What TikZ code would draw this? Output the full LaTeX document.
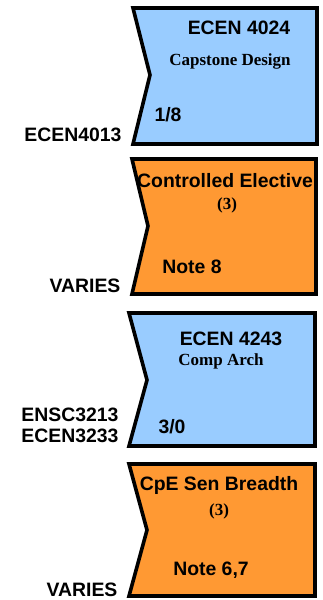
\documentclass[tikz,border=0pt]{standalone}
\usepackage{fontspec}
\setmainfont{Liberation Serif}
\setsansfont{Liberation Sans}
\usepackage{tikz}
\definecolor{coreblue}{RGB}{153,204,255}
\definecolor{electorange}{RGB}{255,153,51}
\tikzstyle{coursebox} = [draw=black, line width=3.6pt, line join=miter]
\tikzstyle{bigtext} = [inner sep=0pt, font=\sffamily\bfseries\fontsize{19.4}{21}\selectfont]
\tikzstyle{smalltext} = [inner sep=0pt, font=\rmfamily\bfseries\fontsize{17}{19}\selectfont]
% left, notch, right, top, middle, bottom, colour
\newcommand{\notchbox}[7]{%
  \draw[coursebox, fill=#7] (#1,#4) -- (#3,#4) -- (#3,#6) -- (#1,#6) -- (#2,#5) -- cycle;}

\begin{document}
\begin{tikzpicture}[x=1pt, y=-1pt]
\useasboundingbox (0,0) rectangle (323,600);

% ECEN 4024
\notchbox{133}{150}{317}{8}{75}{144}{coreblue}
\node[bigtext] (capnum) at (239,28) {ECEN 4024};
\node[smalltext] (capname) at (230,61) {Capstone Design};
\node[bigtext] (capsem) at (168,115) {1/8};
\node[bigtext] (capreq) at (73,135) {ECEN4013};

% controlled elective
\notchbox{132}{148}{316}{159}{226}{294}{electorange}
\node[bigtext] (ctrlname) at (225,181) {Controlled Elective};
\node[smalltext] (ctrlhrs) at (227,205) {(3)};
\node[bigtext] (ctrlnote) at (192,267) {Note 8};
\node[bigtext] (ctrlreq) at (85,286) {VARIES};

% ECEN 4243
\notchbox{129}{147}{315}{313}{380}{446}{coreblue}
\node[bigtext] (archnum) at (231,339) {ECEN 4243};
\node[smalltext] (archname) at (221,361) {Comp Arch};
\node[bigtext] (archsem) at (172,427) {3/0};
\node[bigtext] (archreqa) at (70,415) {ENSC3213};
\node[bigtext] (archreqb) at (70,436) {ECEN3233};

% breadth elective
\notchbox{129}{147}{315}{464}{530}{596}{electorange}
\node[bigtext] (brdname) at (219,485) {CpE Sen Breadth};
\node[smalltext] (brdhrs) at (219,511) {(3)};
\node[bigtext] (brdnote) at (211,570) {Note 6,7};
\node[bigtext] (brdreq) at (82,590) {VARIES};
\end{tikzpicture}
\end{document}
